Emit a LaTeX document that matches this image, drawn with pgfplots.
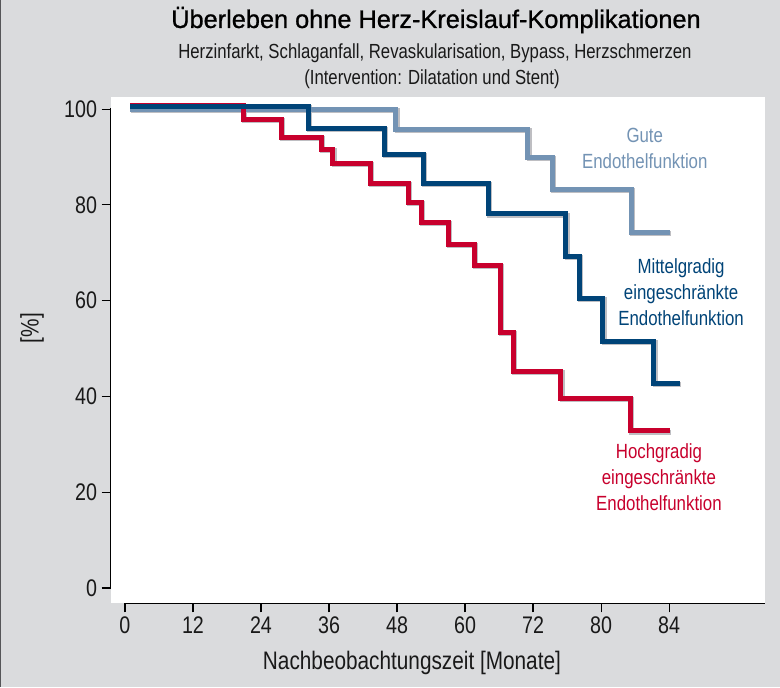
\documentclass[border=0pt]{standalone}
\usepackage{pgfplots}
\pgfplotsset{compat=1.18}
\usepackage{pgfplotstable}
\usepackage{fontspec}
\setmainfont{Liberation Sans}[FakeStretch=0.82]
\newfontfamily\titlefont{Liberation Sans}[FakeBold=0.9]

\definecolor{bggray}{RGB}{218,219,221}
\definecolor{edgegray}{RGB}{85,85,88}
\definecolor{gute}{RGB}{115,147,180}
\definecolor{mittel}{RGB}{0,68,120}
\definecolor{hoch}{RGB}{200,0,45}
\definecolor{shadowgray}{RGB}{190,190,194}
\definecolor{txt}{RGB}{25,25,25}

% Kaplan-Meier steps: x = position on the (uniform) time axis, y = percent
\pgfplotstableread{
x y
0.9 100.0
47.8 95.8
71.1 89.9
75.4 83.3
89.4 74.2
96.1 74.2
}\gutetab

\pgfplotstableread{
x y
0.9 100.5
32.3 95.9
45.8 90.6
52.6 84.5
64.1 78.1
77.8 69.2
80.1 60.5
84.3 51.5
93.3 42.8
97.9 42.8
}\mitteltab

\pgfplotstableread{
x y
0.9 100.8
20.9 97.8
27.6 94.1
34.7 91.6
36.7 88.7
43.3 84.5
50.0 80.6
52.3 76.4
57.0 71.7
61.7 67.3
66.3 53.4
68.5 45.2
76.9 39.6
89.1 32.8
96.1 32.8
}\hochtab

\begin{document}
\begin{tikzpicture}
\fill[bggray] (-83pt,-62.8pt) rectangle (502pt,452.5pt);
\fill[edgegray] (-83pt,-62.8pt) rectangle (-81.9pt,452.5pt);

\begin{axis}[
  at={(0pt,0pt)}, anchor=south west,
  scale only axis, width=490.7pt, height=380pt,
  xmin=-2.52, xmax=112.9, ymin=-3.2, ymax=102.6,
  axis line style={draw=none},
  axis background/.style={fill=white},
  xtick={0,12,...,96},
  xticklabels={0,12,24,36,48,60,72,80,84},
  ytick={0,20,...,100},
  xtick pos=bottom, ytick pos=left,
  tick align=outside, major tick length=6.75pt,
  tick style={black, line width=0.9pt},
  tick label style={font=\fontsize{18pt}{20pt}\selectfont, text=txt},
  /pgf/number format/assume math mode=true,
  xlabel={Nachbeobachtungszeit [Monate]},
  ylabel={[\%]},
  xlabel style={at={(rel axis cs:0.4605,-0.118)}, anchor=center,
    font=\fontsize{19pt}{22pt}\selectfont, text=txt},
  ylabel style={at={(rel axis cs:-0.120,0.543)}, anchor=center,
    font=\fontsize{19pt}{22pt}\selectfont, text=txt},
  clip=false,
  every axis plot/.append style={const plot mark left, no marks,
    line width=3.75pt, line join=miter, line cap=butt},
]
% axis lines as in the original: y from 0 to 100, x from 0 to the right edge
\draw[black, line width=1.1pt, line cap=rect] (axis cs:-2.52,0) -- (axis cs:-2.52,100);
\draw[black, line width=1.1pt] (axis cs:0,-3.2) -- (axis cs:112.9,-3.2);

% soft shadows
\addplot[shadowgray, xshift=0.9pt, yshift=-0.9pt] table {\gutetab};
\addplot[shadowgray, xshift=0.9pt, yshift=-0.9pt] table {\hochtab};
\addplot[shadowgray, xshift=0.9pt, yshift=-0.9pt] table {\mitteltab};

\addplot[gute] table {\gutetab};
\addplot[hoch] table {\hochtab};
\addplot[mittel] table {\mitteltab};

\node[gute, align=center, font=\fontsize{15.4pt}{19.5pt}\selectfont]
  at (axis cs:91.7,91.7) {Gute\\Endothelfunktion};
\node[mittel, align=center, font=\fontsize{15.4pt}{19.5pt}\selectfont]
  at (axis cs:98.1,61.8) {Mittelgradig\\eingeschränkte\\Endothelfunktion};
\node[hoch, align=center, font=\fontsize{15.4pt}{19.5pt}\selectfont]
  at (axis cs:94.2,23.25) {Hochgradig\\eingeschränkte\\Endothelfunktion};
\end{axis}

\node[text=black, font=\titlefont\fontsize{19pt}{22pt}\selectfont]
  at (244pt,437.5pt) {Überleben ohne Herz-Kreislauf-Komplikationen};
\node[text=txt, font=\fontsize{15.3pt}{19.5pt}\selectfont]
  at (243.2pt,412.7pt) {Herzinfarkt, Schlaganfall, Revaskularisation, Bypass, Herzschmerzen};
\node[text=txt, font=\fontsize{15.3pt}{19.5pt}\selectfont]
  at (241pt,393.2pt) {(Intervention: Dilatation und Stent)};
\end{tikzpicture}
\end{document}
